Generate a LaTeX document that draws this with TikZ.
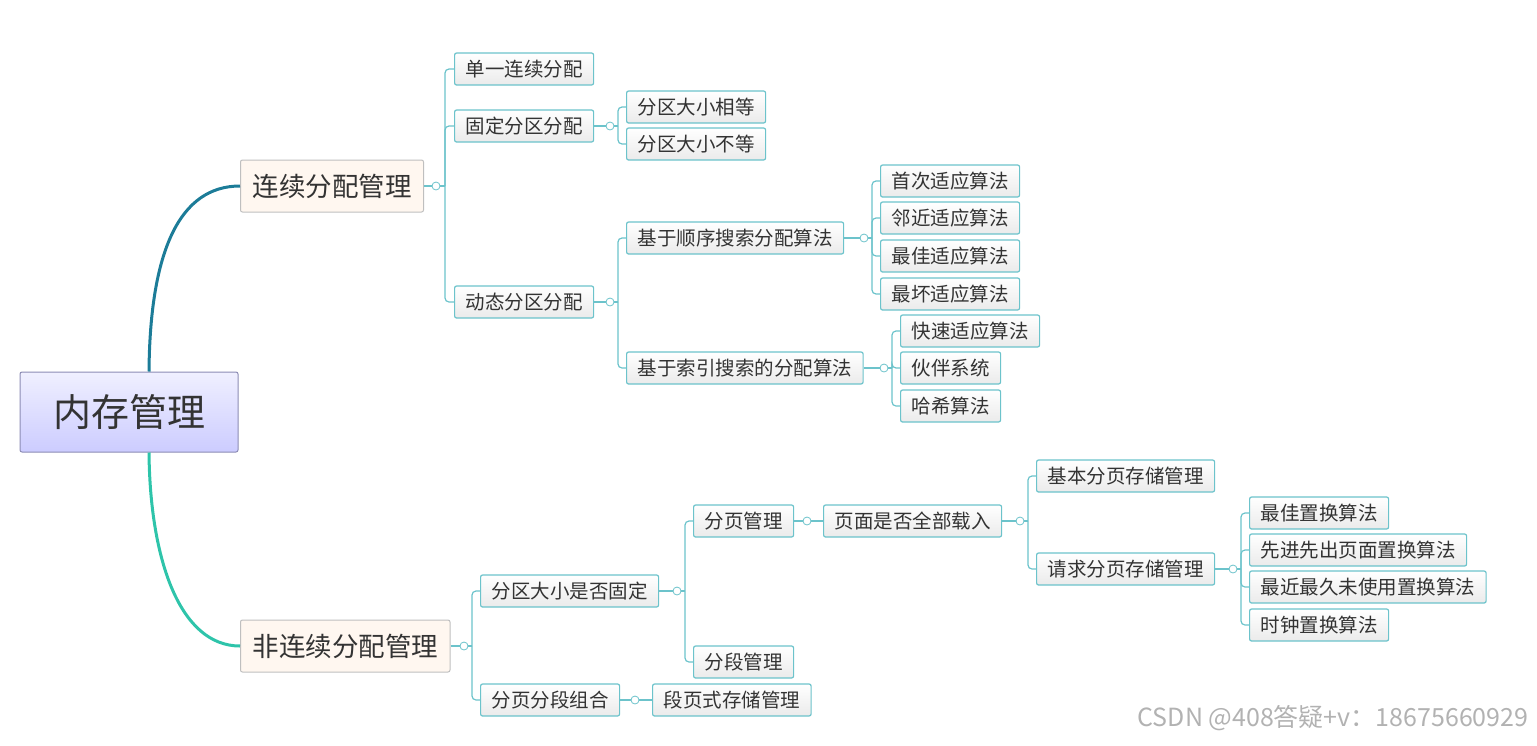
\documentclass[tikz,border=0pt]{standalone}
\usepackage{fontspec}
\setmainfont{Noto Sans CJK SC}
\usetikzlibrary{shapes,positioning}
\definecolor{teal1}{HTML}{6CC3CB}
\definecolor{upline}{HTML}{1C7C98}
\definecolor{lowline}{HTML}{2EC4AA}

\begin{document}
\begin{tikzpicture}[%
    x=1pt, y=-1pt,              % work in pixels of the sketch, y going down
    every node/.style={font=\fontsize{19.5}{22}\selectfont},
    ]
% -------------------------------------------------
% Box and line styles (boxes are placed by their left edge)
\tikzset{
  base/.style={draw, rounded corners=2pt, align=center, text=black!80},
  leaf/.style={base, anchor=west, draw=teal1, line width=1.2pt, top color=white,
    bottom color=black!8, minimum height=32pt, inner xsep=11pt},
  main/.style={base, anchor=west, draw=black!25, line width=1pt, fill=orange!6,
    minimum height=52pt, inner xsep=12pt, font=\fontsize{26.5}{30}\selectfont},
  root/.style={base, draw=blue!35!black!45, line width=1pt, top color=blue!6,
    bottom color=blue!20, minimum width=218pt, minimum height=80pt,
    font=\fontsize{38}{44}\selectfont},
  knob/.style={circle, draw=teal1, fill=white, line width=0.8pt,
    inner sep=0pt, minimum size=8pt},
  link/.style={draw=teal1, line width=1.2pt, rounded corners=4pt},
}
\useasboundingbox (0,0) rectangle (1537,745);
% -------------------------------------------------
% Root and the two main branches
\node [root] (mem) at (129,412) {内存管理};
\node [main] (cont) at (240,186) {连续分配管理};
\node [main] (ncont) at (240,646) {非连续分配管理};
\draw [upline, line width=3pt] (mem.north) ++(20,0) .. controls (150,250) and (180,186) .. (cont.west);
\draw [lowline, line width=3pt] (mem.south) ++(20,0) .. controls (150,560) and (180,646) .. (ncont.west);

% -------------------------------------------------
% Contiguous allocation
\node [leaf] (single) at (454,69) {单一连续分配};
\node [leaf] (fixed) at (454,126) {固定分区分配};
\node [leaf] (dyn) at (454,302) {动态分区分配};
\node [leaf] (feq) at (626,107) {分区大小相等};
\node [leaf] (fneq) at (626,144) {分区大小不等};
\node [leaf] (seq) at (626,238) {基于顺序搜索分配算法};
\node [leaf] (idx) at (626,368) {基于索引搜索的分配算法};
\node [leaf] (first) at (880,181) {首次适应算法};
\node [leaf] (next) at (880,218) {邻近适应算法};
\node [leaf] (best) at (880,256) {最佳适应算法};
\node [leaf] (worst) at (880,294) {最坏适应算法};
\node [leaf] (quick) at (900,331) {快速适应算法};
\node [leaf] (buddy) at (900,368) {伙伴系统};
\node [leaf] (hash) at (900,406) {哈希算法};

% -------------------------------------------------
% Non-contiguous allocation
\node [leaf] (fsize) at (480,591) {分区大小是否固定};
\node [leaf] (combo) at (480,700) {分页分段组合};
\node [leaf] (paging) at (693,521) {分页管理};
\node [leaf] (seg) at (693,662) {分段管理};
\node [leaf] (segpg) at (652,700) {段页式存储管理};
\node [leaf] (load) at (823,521) {页面是否全部载入};
\node [leaf] (basic) at (1036,476) {基本分页存储管理};
\node [leaf] (req) at (1036,569) {请求分页存储管理};
\node [leaf] (opt) at (1249,513) {最佳置换算法};
\node [leaf] (fifo) at (1249,550) {先进先出页面置换算法};
\node [leaf] (lru) at (1249,587) {最近最久未使用置换算法};
\node [leaf] (clock) at (1249,625) {时钟置换算法};

% -------------------------------------------------
% Forks: parent, knob x, spine x, children
\foreach \p/\k/\s/\kids in {cont/436/445/{single,fixed,dyn},
    fixed/610/618/{feq,fneq}, dyn/610/618/{seq,idx},
    seq/864/872/{first,next,best,worst}, idx/884/892/{quick,buddy,hash},
    ncont/464/472/{fsize,combo}, fsize/677/685/{paging,seg},
    load/1020/1028/{basic,req}, req/1233/1241/{opt,fifo,lru,clock}} {
  \coordinate (s-\p) at (\s,0 |- \p.east);
  \foreach \c in \kids
    \draw [link] (s-\p) |- (\c.west);
  \draw [link] (\p.east) -- (s-\p);
  \node [knob] at (\k,0 |- \p.east) {};
}
\draw [link] (paging.east) -- (load.west);
\node [knob] at (807,521) {};
\draw [link] (combo.east) -- (segpg.west);
\node [knob] at (635,700) {};

\node [anchor=east, text=black!30, font=\fontsize{25}{28}\selectfont] (mark) at (1532,718)
  {CSDN @408答疑+v：18675660929};
\end{tikzpicture}
\end{document}
